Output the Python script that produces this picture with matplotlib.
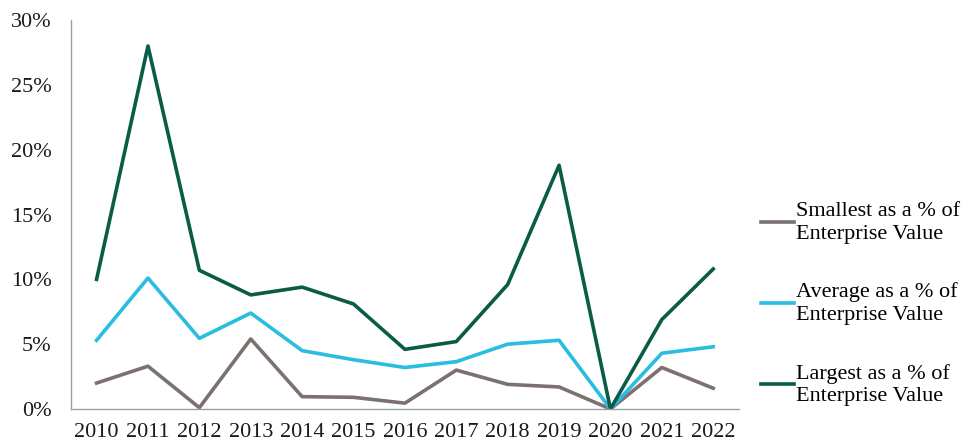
import matplotlib.pyplot as plt
from matplotlib.ticker import PercentFormatter

years = ["2010", "2011", "2012", "2013", "2014", "2015", "2016",
         "2017", "2018", "2019", "2020", "2021", "2022"]
smallest = [2.0, 3.3, 0.1, 5.4, 0.95, 0.9, 0.45, 3.0, 1.9, 1.7, 0.0, 3.2, 1.6]
average = [5.3, 10.1, 5.45, 7.4, 4.5, 3.8, 3.2, 3.65, 5.0, 5.3, 0.0, 4.3, 4.8]
largest = [10.0, 28.0, 10.7, 8.8, 9.4, 8.1, 4.6, 5.2, 9.6, 18.8, 0.0, 6.9, 10.8]

plt.rcParams["font.family"] = ["Liberation Serif", "DejaVu Serif"]

fig = plt.figure(figsize=(9.71, 4.46), dpi=100)
ax = fig.add_axes([0.073, 0.083, 0.688, 0.872])

x = range(len(years))
ax.plot(x, smallest, color="#7b716e", lw=2.6, label="Smallest as a % of\nEnterprise Value")
ax.plot(x, average, color="#29bde0", lw=2.6, label="Average as a % of\nEnterprise Value")
ax.plot(x, largest, color="#0a5c48", lw=2.6, label="Largest as a % of\nEnterprise Value")

ax.set_xlim(-0.5, len(years) - 0.5)
ax.set_ylim(0, 30)
ax.set_yticks(range(0, 31, 5))
ax.yaxis.set_major_formatter(PercentFormatter(decimals=0))
ax.set_xticks(list(x))
ax.set_xticklabels(years)
ax.tick_params(length=0, labelsize=16, colors="#1a1a1a")
ax.tick_params(axis="y", pad=14)
ax.tick_params(axis="x", pad=10)

for s in ["top", "right"]:
    ax.spines[s].set_visible(False)
for s in ["left", "bottom"]:
    ax.spines[s].set_color("#9aa0a6")
    ax.spines[s].set_linewidth(1.0)

leg = fig.legend(loc="center left", bbox_to_anchor=(0.763, 0.318), frameon=False,
                 fontsize=16, handlelength=1.5, handletextpad=0.1, labelspacing=1.75)
for t in leg.get_texts():
    t.set_linespacing(1.25)

plt.savefig("out.png", dpi=100)
